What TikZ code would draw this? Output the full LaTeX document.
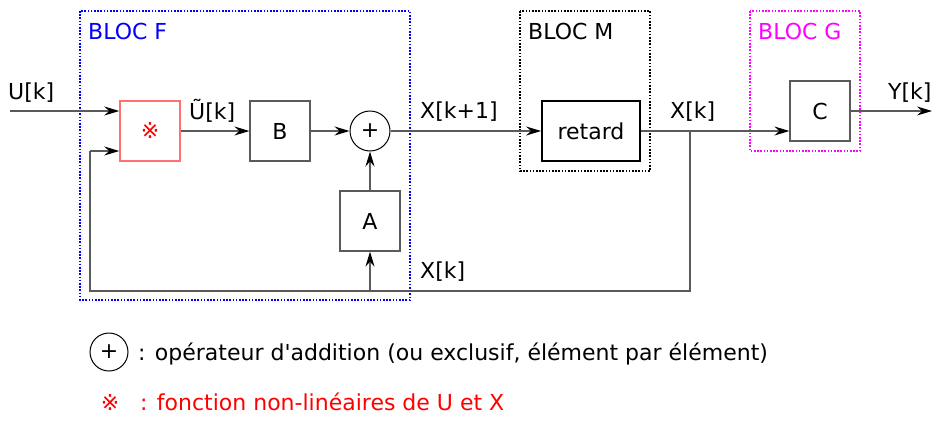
\documentclass[tikz,border=0pt]{standalone}
\usepackage{fontspec}
\setmainfont{DejaVu Sans}
\usetikzlibrary{arrows.meta}
\definecolor{lgrey}{HTML}{5A5A5A}
\definecolor{lred}{HTML}{FF7070}
\definecolor{mag}{RGB}{255,0,255}
\definecolor{blu}{RGB}{0,0,255}
\definecolor{rd}{RGB}{255,0,0}
\begin{document}
\begin{tikzpicture}[x=1pt,y=-1pt,
  every node/.style={font=\fontsize{22}{26}\selectfont},
  lbl/.style={anchor=base west,inner sep=0pt},
  blk/.style={draw=lgrey,line width=1.2pt,minimum width=60pt,minimum height=60pt,inner sep=0pt},
  wire/.style={draw=lgrey,line width=1.2pt},
  arr/.style={wire,-{Stealth[length=15pt,width=9pt,inset=5pt,black]}},
  dotbox/.style={line width=1.6pt,dash pattern=on 1.6pt off 1.6pt}]
\useasboundingbox (0,0) rectangle (942,421);
% dotted blocks
\draw[dotbox,blu] (80,11) rectangle (410,300);
\draw[dotbox,black] (520,11) rectangle (650,171);
\draw[dotbox,mag] (750,11) rectangle (860,151);
\node[lbl,text=blu] (lf) at (88,39) {BLOC F};
\node[lbl] (lm) at (528,39) {BLOC M};
\node[lbl,text=mag] (lg) at (758,39) {BLOC G};
% blocks
\node[blk,draw=lred,line width=1.5pt,text=rd] (nl) at (150,131) {※};
\node[blk] (B) at (280,131) {B};
\node[draw=black,line width=1pt,circle,minimum size=40pt,inner sep=0pt] (plus) at (370,131) {+};
\node[blk] (A) at (370,221) {A};
\node[draw=black,line width=1.8pt,minimum width=98pt,minimum height=60pt,inner sep=0pt] (ret) at (591,131) {retard};
\node[blk] (C) at (820,111) {C};
% coordinates
\coordinate (uin) at (10,111);
\coordinate (j) at (690,131);
\coordinate (jb) at (690,291);
\coordinate (fa) at (370,291);
\coordinate (fl) at (90,291);
\coordinate (fu) at (90,151);
\coordinate (yout) at (932,111);
% connectors
\draw[arr] (uin) -- (uin -| nl.west);
\draw[arr] (nl) -- (B);
\draw[arr] (B) -- (plus);
\draw[arr] (A) -- (plus);
\draw[arr] (plus) -- (ret);
\draw[arr] (ret.east) -- (C.west |- ret.east);
\draw[arr] (C) -- (yout);
\draw[wire] (j) -- (jb) -- (fl) -- (fu);
\draw[arr] (fu) -- (fu -| nl.west);
\draw[arr] (fa) -- (A);
% labels
\node[lbl] (tu) at (8,99) {U[k]};
\node[lbl] (tut) at (189,119) {Ũ[k]};
\node[lbl] (tx1) at (420,118) {X[k+1]};
\node[lbl] (tx) at (670,118) {X[k]};
\node[lbl] (txb) at (420,278) {X[k]};
\node[lbl] (ty) at (888,99) {Y[k]};
% legend
\node[draw=black,line width=1pt,circle,minimum size=38pt,inner sep=0pt] (lp) at (109,352) {+};
\node[lbl] (lt1) at (138,360) {: opérateur d\textquotesingle addition (ou exclusif, élément par élément)};
\node[text=rd,anchor=base] (ls) at (110,410) {※};
\node[lbl,text=rd] (lt2) at (140,410) {: fonction non-linéaires de U et X};
\end{tikzpicture}
\end{document}
